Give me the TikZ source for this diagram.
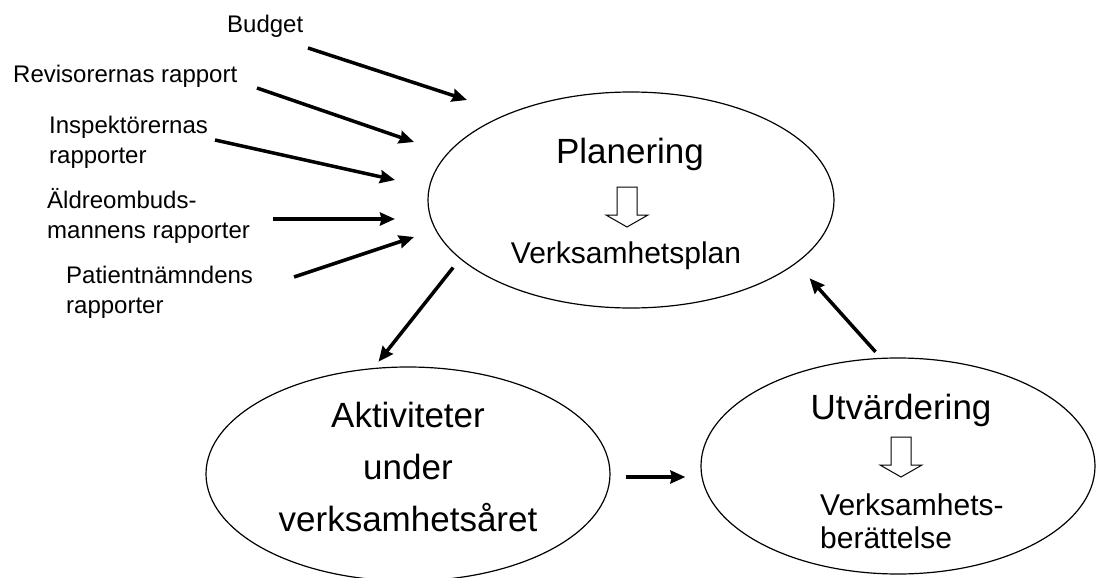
\documentclass[tikz,border=0pt]{standalone}
\usepackage{fontspec}
\setmainfont{Liberation Sans}
\usetikzlibrary{shapes.geometric,arrows.meta}

\tikzset{
  blob/.style={ellipse, draw, line width=1.2pt, inner sep=0pt},
  title/.style={font=\fontsize{35}{52}\selectfont, inner sep=0pt},
  sub/.style={font=\fontsize{30}{33}\selectfont, inner sep=0pt},
  lbl/.style={font=\fontsize{24}{30}\selectfont, inner sep=0pt, align=left, anchor=north west},
  flow/.style={line width=3.5pt, -{Stealth[length=15pt,width=13pt,inset=1.5pt]}},
  hollowdown/.pic={\draw[line width=1pt] (-10,0) -- (10,0) -- (10,28) -- (21,28) -- (0,40) -- (-21,28) -- (-10,28) -- cycle;}
}

\begin{document}
\begin{tikzpicture}[x=1pt, y=-1pt]
  \fill[white] (0,0) rectangle (1096,578);
  \useasboundingbox (0,0) rectangle (1096,578);
  % the three phases
  \node[blob, minimum width=406pt, minimum height=216pt] (plan) at (631,200) {};
  \node[blob, minimum width=404pt, minimum height=214pt] (akt) at (408,474) {};
  \node[blob, minimum width=394pt, minimum height=216pt] (utv) at (898,466) {};
  \node[title, anchor=base] (plan-t) at (630,163) {Planering};
  \pic at (627,187) {hollowdown};
  \node[sub, anchor=base] (plan-s) at (626,263) {Verksamhetsplan};
  \node[title, align=center, anchor=north] (akt-t) at (408,402) {Aktiviteter\\under\\verksamhetsåret};
  \node[title, anchor=base] (utv-t) at (901,419) {Utvärdering};
  \pic at (901,437) {hollowdown};
  \node[sub, align=left, anchor=north west] (utv-s) at (820,494) {Verksamhets-\\berättelse};
  % inputs to the planning
  \node[lbl, anchor=base west] (budget) at (227,33) {Budget};
  \node[lbl, anchor=base west] (revisor) at (13,82) {Revisorernas rapport};
  \node[lbl] (inspekt) at (49,116) {Inspektörernas\\rapporter};
  \node[lbl] (aldre) at (47,188) {Äldreombuds-\\mannens rapporter};
  \node[lbl] (patient) at (66,266) {Patientnämndens\\rapporter};
  \coordinate (budget-out) at (308,48);
  \coordinate (budget-in) at (467,100);
  \coordinate (revisor-out) at (257,88);
  \coordinate (revisor-in) at (414,142);
  \coordinate (inspekt-out) at (215,140);
  \coordinate (inspekt-in) at (395,180);
  \coordinate (aldre-out) at (273,219);
  \coordinate (aldre-in) at (395,219);
  \coordinate (patient-out) at (294,277);
  \coordinate (patient-in) at (414,237);
  \draw[flow] (budget-out) -- (budget-in);
  \draw[flow] (revisor-out) -- (revisor-in);
  \draw[flow] (inspekt-out) -- (inspekt-in);
  \draw[flow] (aldre-out) -- (aldre-in);
  \draw[flow] (patient-out) -- (patient-in);
  % the cycle
  \draw[flow, shorten <=11pt, shorten >=8pt] (plan.199) -- (akt.108);
  \draw[flow] ([shift={(15pt,-3pt)}]akt.east) -- ([shift={(-15pt,-11pt)}]utv.west);
  \draw[flow, shorten <=8pt, shorten >=20pt] (utv.99) -- (plan.339);
\end{tikzpicture}
\end{document}
